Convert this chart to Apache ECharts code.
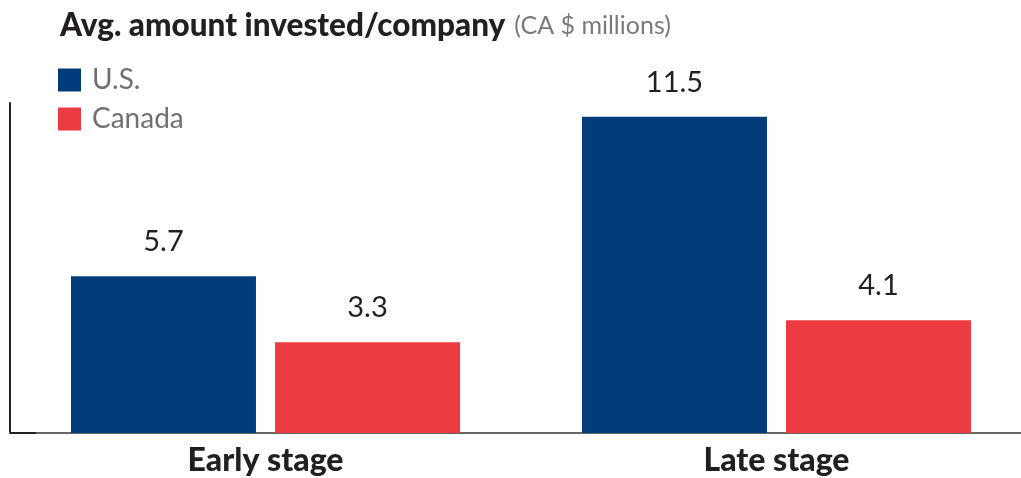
<!DOCTYPE html>
<html>
<head>
<meta charset="utf-8">
<script src="https://cdn.jsdelivr.net/npm/echarts@6/dist/echarts.min.js"></script>
<style>
  html, body { margin: 0; padding: 0; background: #fff; }
  #chart { width: 1021px; height: 478px; }
</style>
</head>
<body>
<div id="chart"></div>
<script>
// Average amount invested per company, CA $ millions
const stages = ['Early stage', 'Late stage'];
const usValues = [5.7, 11.5];
const canadaValues = [3.3, 4.1];
const seriesNames = ['U.S.', 'Canada'];

const FONT = 'Lato, "Open Sans", sans-serif';
const BLUE = '#033c7b';
const RED = '#ed3b42';

const chart = echarts.init(document.getElementById('chart'));

const labelStyle = {
  show: true,
  position: 'top',
  distance: 20,
  color: '#231f20',
  fontFamily: FONT,
  fontSize: 29,
  formatter: p => p.value.toFixed(1)
};

chart.setOption({
  animation: false,
  title: {
    left: 55,
    top: 5,
    text: '{a|Avg. amount invested/company} {b|(CA $ millions)}',
    textStyle: {
      rich: {
        a: { fontFamily: FONT, fontWeight: 900, fontSize: 31.5, color: '#231f20' },
        b: { fontFamily: FONT, fontWeight: 'normal', fontSize: 25, color: '#7a7a7a', padding: [0, 0, 0, 4] }
      }
    }
  },
  legend: {
    orient: 'vertical',
    left: 53,
    top: 61,
    itemWidth: 23,
    itemHeight: 23,
    itemGap: 11,
    icon: 'rect',
    data: seriesNames,
    textStyle: { fontFamily: FONT, fontSize: 28, lineHeight: 23, color: '#707070', padding: [0, 0, 0, 6] }
  },
  grid: { left: 10, width: 1022, top: 103, bottom: 45, outerBoundsMode: 'none', containLabel: false },
  xAxis: {
    type: 'category',
    data: stages,
    axisLine: { show: true, lineStyle: { color: '#666', width: 2 } },
    axisTick: { show: false },
    axisLabel: {
      margin: 12,
      fontFamily: FONT,
      fontWeight: 900,
      fontSize: 32,
      color: '#231f20'
    }
  },
  yAxis: {
    type: 'value',
    min: 0,
    max: 12,
    interval: 12,
    axisLine: { show: true, lineStyle: { color: '#222', width: 2 } },
    axisTick: { show: true, inside: true, length: 26, customValues: [0], lineStyle: { color: '#222', width: 2 } },
    axisLabel: { show: false },
    splitLine: { show: false }
  },
  series: [
    {
      name: seriesNames[0],
      type: 'bar',
      data: usValues,
      barWidth: 185,
      barGap: '10.3%',
      itemStyle: { color: BLUE },
      label: labelStyle
    },
    {
      name: seriesNames[1],
      type: 'bar',
      data: canadaValues,
      barWidth: 185,
      itemStyle: { color: RED },
      label: labelStyle
    }
  ]
});
</script>
</body>
</html>
